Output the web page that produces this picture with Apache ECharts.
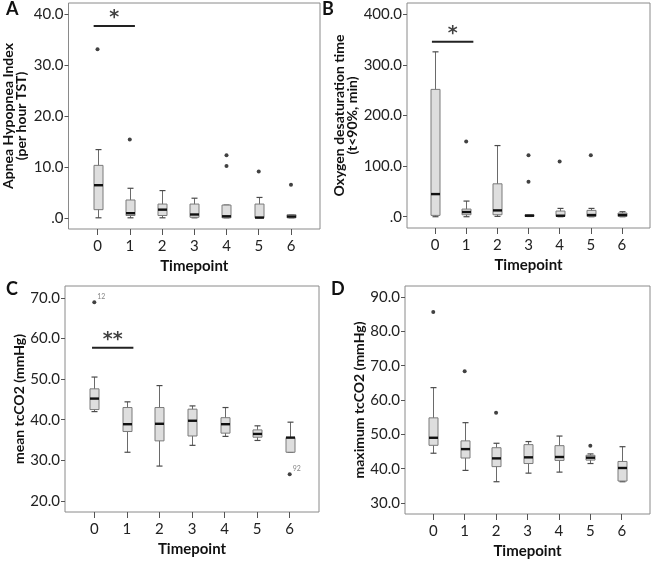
<!DOCTYPE html>
<html>
<head>
<meta charset="utf-8">
<script src="https://cdn.jsdelivr.net/npm/echarts@6/dist/echarts.min.js"></script>
<style>
html,body{margin:0;padding:0;background:#fff;}
#chart{width:652px;height:561px;}
</style>
</head>
<body>
<div id="chart"></div>
<script>
// ---------- data ----------
const categories = [0, 1, 2, 3, 4, 5, 6];

// [min, Q1, median, Q3, max] per timepoint
const ahiStats = [
  [0, 1.6, 6.4, 10.3, 13.4],
  [0, 0.45, 0.9, 3.5, 5.8],
  [0, 0.45, 1.6, 2.7, 5.35],
  [0, 0.1, 0.65, 2.7, 3.85],
  [0, 0, 0.3, 2.5, 2.5],
  [0, 0, 0.05, 2.7, 4.0],
  [0, 0, 0.25, 0.6, 0.6]
];
const ahiOutliers = [[0, 33.1], [1, 15.4], [4, 12.3], [4, 10.2], [5, 9.1], [6, 6.5]];

const desatStats = [
  [0, 2.6, 44.7, 251.6, 325.8],
  [0, 3.9, 9.2, 15.1, 30.9],
  [0.7, 3.9, 12.5, 65, 140.6],
  [0.5, 0.5, 2, 4, 4],
  [0, 0.7, 2, 11.2, 16.4],
  [0, 0.7, 3.3, 12.5, 16.4],
  [0, 0.7, 3.3, 7.2, 9.9]
];
const desatOutliers = [[1, 148.4], [3, 121.5], [3, 69], [4, 109], [5, 121.5]];

const meanStats = [
  [42.0, 42.5, 45.2, 47.6, 50.5],
  [32.0, 37.1, 38.9, 43.0, 44.4],
  [28.6, 34.8, 39.0, 43.0, 48.4],
  [33.7, 36.0, 39.75, 42.6, 43.4],
  [35.9, 36.7, 38.9, 40.5, 43.0],
  [34.9, 35.7, 36.5, 37.5, 38.5],
  [32.0, 32.0, 35.6, 35.6, 39.4]
];
const meanOutliers = [[0, 68.9, '12'], [6, 26.6, '92']];

const maxStats = [
  [44.5, 46.8, 49.0, 54.8, 63.6],
  [39.5, 43.1, 45.7, 48.1, 53.4],
  [36.2, 40.6, 43.0, 46.1, 47.4],
  [38.7, 41.5, 43.3, 47.0, 47.9],
  [39.0, 42.4, 43.4, 46.7, 49.5],
  [41.5, 42.5, 43.2, 43.9, 44.3],
  [36.2, 36.4, 40.2, 42.1, 46.4]
];
const maxOutliers = [[0, 85.6], [1, 68.4], [2, 56.3], [5, 46.7]];

// y tick labels per panel
const ahiTicks = [0, 10, 20, 30, 40];
const desatTicks = [0, 100, 200, 300, 400];
const meanTicks = [20, 30, 40, 50, 60, 70];
const maxTicks = [30, 40, 50, 60, 70, 80, 90];

// significance annotations: [x start, x end, y, text]
const ahiSig = [-0.12, 1.16, 37.7, '*'];
const desatSig = [-0.1, 1.23, 345.5, '*'];
const meanSig = [-0.07, 1.2, 57.7, '**'];

const panelLetters = ['A', 'B', 'C', 'D'];
const yTitles = [
  'Apnea Hypopnea Index\n(per hour TST)',
  'Oxygen desaturation time\n(t<90%, min)',
  'mean tcCO2 (mmHg)',
  'maximum tcCO2 (mmHg)'
];
const xTitle = 'Timepoint';

// ---------- chart ----------
const FONT = 'Lato';
const chart = echarts.init(document.getElementById('chart'), null, {renderer: 'canvas'});

const panels = [
  {stats: ahiStats, out: ahiOutliers, ticks: ahiTicks, min: -2.2, max: 42.2, sig: ahiSig,
   grid: {left: 67, top: 3, width: 253, height: 226}, nameGap: 41},
  {stats: desatStats, out: desatOutliers, ticks: desatTicks, min: -22.3, max: 422.3, sig: desatSig,
   grid: {left: 407, top: 3, width: 243, height: 225}, nameGap: 48},
  {stats: meanStats, out: meanOutliers, ticks: meanTicks, min: 17.3, max: 72.9, sig: meanSig,
   grid: {left: 65, top: 286, width: 254, height: 226}, nameGap: 38},
  {stats: maxStats, out: maxOutliers, ticks: maxTicks, min: 26.8, max: 93.2, sig: null,
   grid: {left: 405, top: 286, width: 245, height: 228}, nameGap: 38}
];

function fmt(v) {
  return v === 0 ? '.0' : v.toFixed(1);
}

function renderBox(params, api) {
  const x = api.value(0);
  const lo = api.coord([x, api.value(1)]);
  const q1 = api.coord([x, api.value(2)]);
  const md = api.coord([x, api.value(3)]);
  const q3 = api.coord([x, api.value(4)]);
  const hi = api.coord([x, api.value(5)]);
  const cx = Math.round(lo[0]) + 0.5;
  const bw = 9, cw = 3;
  return {
    type: 'group',
    children: [
      {type: 'line', shape: {x1: cx, y1: hi[1], x2: cx, y2: lo[1]}, style: {stroke: '#6a6a6a', lineWidth: 1}},
      {type: 'line', shape: {x1: cx - cw, y1: hi[1], x2: cx + cw, y2: hi[1]}, style: {stroke: '#4a4a4a', lineWidth: 1.2}},
      {type: 'line', shape: {x1: cx - cw, y1: lo[1], x2: cx + cw, y2: lo[1]}, style: {stroke: '#4a4a4a', lineWidth: 1.2}},
      {type: 'rect', shape: {x: cx - bw / 2, y: q3[1], width: bw, height: Math.max(q1[1] - q3[1], 0.5)},
       style: {fill: '#dedede', stroke: '#7a7a7a', lineWidth: 1}},
      {type: 'line', shape: {x1: cx - bw / 2, y1: md[1], x2: cx + bw / 2, y2: md[1]}, style: {stroke: '#111', lineWidth: 2.4}}
    ]
  };
}

const grids = [], xAxes = [], yAxes = [], series = [], titles = [];
panels.forEach((p, i) => {
  grids.push(Object.assign({show: true, borderColor: '#8a8a8a', borderWidth: 1, backgroundColor: 'transparent'}, p.grid));
  xAxes.push({
    gridIndex: i, type: 'value', min: -0.9, max: 6.9, position: 'bottom',
    name: xTitle, nameLocation: 'middle', nameGap: 30,
    nameTextStyle: {fontFamily: FONT, fontSize: 15, fontWeight: 'bold', color: '#111'},
    axisLine: {show: false, onZero: false},
    axisTick: {show: true, length: 6, customValues: categories, lineStyle: {color: '#555'}},
    axisLabel: {customValues: categories, margin: 10, fontFamily: FONT, fontSize: 15, color: '#222',
                formatter: v => String(v)},
    splitLine: {show: false}
  });
  yAxes.push({
    gridIndex: i, type: 'value', min: p.min, max: p.max, position: 'left',
    name: yTitles[i], nameLocation: 'middle', nameGap: p.nameGap, nameRotate: 90,
    nameTextStyle: {fontFamily: FONT, fontSize: 14, fontWeight: 'bold', color: '#111', lineHeight: 13},
    axisLine: {show: false, onZero: false},
    axisTick: {show: true, length: 4, customValues: p.ticks, lineStyle: {color: '#555'}},
    axisLabel: {customValues: p.ticks, margin: 5, fontFamily: FONT, fontSize: 15, color: '#222', formatter: fmt},
    splitLine: {show: false}
  });
  series.push({
    type: 'custom', xAxisIndex: i, yAxisIndex: i, renderItem: renderBox, clip: false,
    data: p.stats.map((s, k) => [categories[k]].concat(s)), z: 2
  });
  series.push({
    type: 'scatter', xAxisIndex: i, yAxisIndex: i, symbolSize: 4, itemStyle: {color: '#111'}, z: 3,
    data: p.out.map(o => ({value: [o[0], o[1]], label: o[2] ? {show: true, formatter: o[2]} : {show: false}})),
    label: {position: [5, -7], fontFamily: FONT, fontSize: 7, color: '#666'}
  });
  if (p.sig) {
    series.push({
      type: 'line', xAxisIndex: i, yAxisIndex: i, symbol: 'none', z: 3,
      lineStyle: {color: '#222', width: 2},
      data: [[p.sig[0], p.sig[2]], [p.sig[1], p.sig[2]]]
    });
    series.push({
      type: 'scatter', xAxisIndex: i, yAxisIndex: i, symbolSize: 0, z: 3,
      data: [[(p.sig[0] + p.sig[1]) / 2, p.sig[2]]],
      label: {show: true, position: 'top', distance: -2, formatter: p.sig[3],
              fontFamily: 'DejaVu Sans', fontSize: 19, fontWeight: 'bold', color: '#111'}
    });
  }
});

titles.push({text: 'A', left: 6, top: 0});
titles.push({text: 'B', left: 322, top: 0});
titles.push({text: 'C', left: 6, top: 280});
titles.push({text: 'D', left: 331, top: 280});
titles.forEach(t => { t.padding = 0; t.textStyle = {fontFamily: FONT, fontSize: 18, fontWeight: 'bold', color: '#111'}; });

chart.setOption({
  animation: false,
  backgroundColor: '#fff',
  title: titles,
  grid: grids,
  xAxis: xAxes,
  yAxis: yAxes,
  series: series
});
</script>
</body>
</html>
